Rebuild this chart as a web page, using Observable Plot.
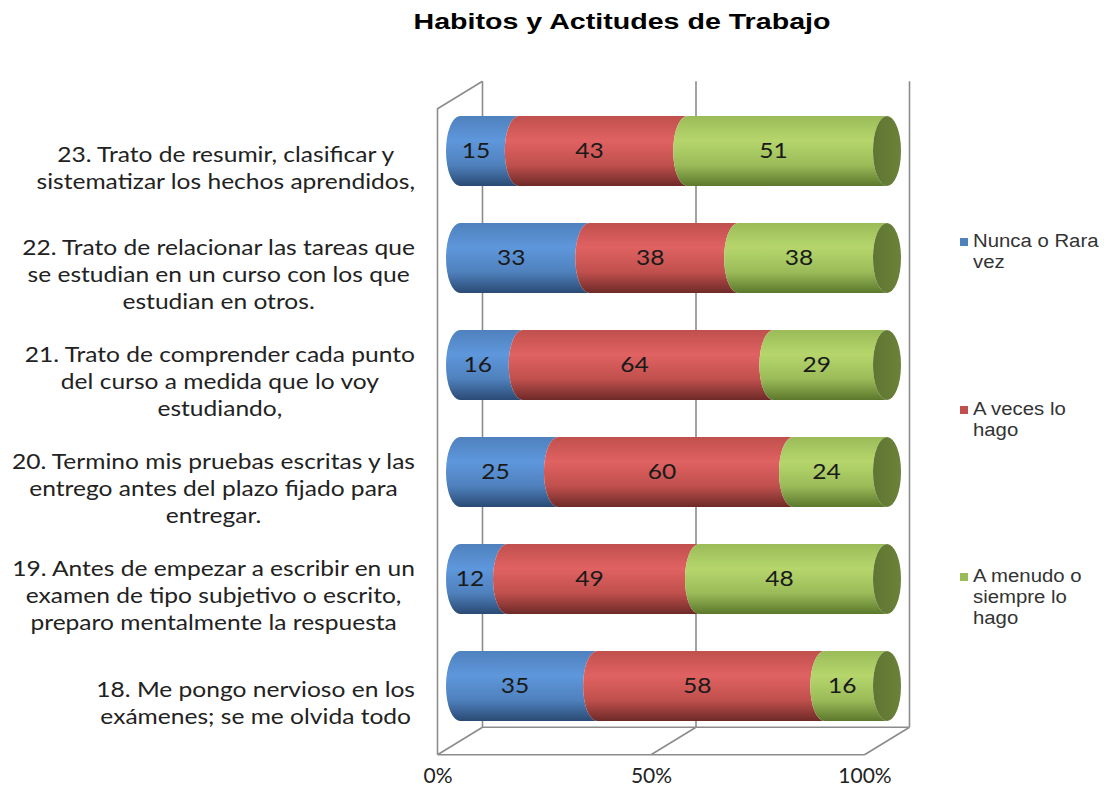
<!DOCTYPE html>
<html><head><meta charset="utf-8">
<script src="https://cdn.jsdelivr.net/npm/d3@7"></script>
<script src="https://cdn.jsdelivr.net/npm/@observablehq/plot@0.6"></script>
<style>
body{margin:0;background:#fff;width:1106px;height:794px;overflow:hidden;position:relative;}
#title{height:44px;position:relative;}
#title span{position:absolute;left:622px;top:22px;transform:translate(-50%,-50%) scaleX(1.3);font:bold 22px "Liberation Sans",Arial,sans-serif;color:#000;white-space:nowrap;}
#legend{position:absolute;left:960px;top:0;font:18px "Liberation Sans",Arial,sans-serif;color:#333;}
.item{position:absolute;left:0;width:150px;}
.sw{position:absolute;left:0;width:8px;height:8px;}
.lt{position:absolute;left:13px;line-height:21px;transform:scaleX(1.13);transform-origin:left top;white-space:nowrap;}
</style></head><body>
<div id="title"><span>Habitos y Actitudes de Trabajo</span></div>
<div id="chart"></div>
<div id="legend"></div>
<script>
// ---- data ----
const questions = [
  "23. Trato de resumir, clasificar y\nsistematizar los hechos aprendidos,",
  "22. Trato de relacionar las tareas que\nse estudian en un curso con los que\nestudian en otros.",
  "21. Trato de comprender cada punto\ndel curso a medida que lo voy\nestudiando,",
  "20. Termino mis pruebas escritas y las\nentrego antes del plazo fijado para\nentregar.",
  "19. Antes de empezar a escribir en un\nexamen de tipo subjetivo o escrito,\npreparo mentalmente la respuesta",
  "18. Me pongo nervioso en los\nexámenes; se me olvida todo"
];
const seriesNames = ["Nunca o Rara vez", "A veces lo hago", "A menudo o siempre lo hago"];
const legendLabels = ["Nunca o Rara\nvez", "A veces lo\nhago", "A menudo o\nsiempre lo\nhago"];
const nunca   = [15, 33, 16, 25, 12, 35];
const aVeces  = [43, 38, 64, 60, 49, 58];
const aMenudo = [51, 38, 29, 24, 48, 16];
const xTicks = [0, 0.5, 1];
const xTickLabels = ["0%", "50%", "100%"];
const colors = ["#4F81BD", "#C0504D", "#9BBB59"];
const lightColors = ["#5E97DC", "#E06262", "#B6D66C"];
const darkColors = ["#2A4A74", "#6E2A28", "#5C782C"];
const capColor = "#6B8239";

// ---- build table ----
const seriesValues = [nunca, aVeces, aMenudo];
const rows = [];
questions.forEach((q, i) => {
  seriesValues.forEach((arr, s) => rows.push({q, s, serie: seriesNames[s], value: arr[i]}));
});

const DX = 22.5, DY = 13.75, RX = 14;
const STRETCH = 1.17;

function frame3d(index, scales, values, dim) {
  const x = scales.x;
  const top = dim.marginTop, bottom = dim.height - dim.marginBottom;
  const g = d3.create("svg:g").attr("fill", "none").attr("stroke", "#8C8C8C").attr("stroke-width", 1.6);
  const p = d3.path();
  xTicks.forEach(t => { p.moveTo(x(t) + DX, top - DY); p.lineTo(x(t) + DX, bottom - DY); });
  p.moveTo(x(0) + DX, bottom - DY); p.lineTo(x(1) + DX, bottom - DY);
  p.moveTo(x(0) - DX, bottom + DY); p.lineTo(x(1) - DX, bottom + DY);
  xTicks.forEach(t => { p.moveTo(x(t) + DX, bottom - DY); p.lineTo(x(t) - DX, bottom + DY); });
  p.moveTo(x(0) - DX, bottom + DY); p.lineTo(x(0) - DX, top + DY); p.lineTo(x(0) + DX, top - DY);
  g.append("path").attr("d", p.toString());
  return g.node();
}

function cylinders(index, scales, values, dim) {
  const bw = scales.y.bandwidth ? scales.y.bandwidth() : 70;
  const ry = bw / 2;
  const g = d3.create("svg:g");
  const defs = g.append("defs");
  colors.forEach((c, s) => {
    const lg = defs.append("linearGradient").attr("id", "cyl" + s)
      .attr("x1", 0).attr("y1", 0).attr("x2", 0).attr("y2", 1);
    lg.append("stop").attr("offset", "0%").attr("stop-color", c);
    lg.append("stop").attr("offset", "35%").attr("stop-color", lightColors[s]);
    lg.append("stop").attr("offset", "70%").attr("stop-color", c);
    lg.append("stop").attr("offset", "100%").attr("stop-color", darkColors[s]);
  });
  const capG = defs.append("linearGradient").attr("id", "capg")
    .attr("x1", 0).attr("y1", 0).attr("x2", 1).attr("y2", 0);
  capG.append("stop").attr("offset", "0%").attr("stop-color", "#5F7532");
  capG.append("stop").attr("offset", "100%").attr("stop-color", capColor);
  const x1 = values.x1, x2 = values.x2, Y = values.y;
  const maxX = {};
  for (const i of index) {
    const q = rows[i].q;
    if (!(q in maxX) || x2[i] > maxX[q].x) maxX[q] = {x: x2[i], i};
  }
  for (const i of index) {
    const s = rows[i].s;
    const t = Y[i], b = Y[i] + bw;
    const d = `M${x1[i]},${t}L${x2[i]},${t}A${RX},${ry} 0 0 0 ${x2[i]},${b}L${x1[i]},${b}A${RX},${ry} 0 0 1 ${x1[i]},${t}Z`;
    g.append("path").attr("d", d).attr("fill", `url(#cyl${s})`);
  }
  for (const q in maxX) {
    const i = maxX[q].i;
    g.append("ellipse").attr("cx", x2[i]).attr("cy", Y[i] + ry).attr("rx", RX).attr("ry", ry)
      .attr("fill", "url(#capg)");
  }
  return g.node();
}

const chart = Plot.plot({
  width: 1106,
  height: 750,
  marginTop: 51,
  marginBottom: 53,
  marginLeft: 460,
  marginRight: 219,
  x: {domain: [0, 1], axis: null},
  y: {domain: questions, axis: null, paddingInner: 0.35, paddingOuter: 0.175},
  style: {fontFamily: "Lato, sans-serif", background: "#fff"},
  marks: [
    frame3d,
    Plot.barX(rows, Plot.stackX({x: "value", y: "q", offset: "normalize", order: null, render: cylinders})),
    Plot.text(rows, Plot.stackX({x: "value", y: "q", offset: "normalize", order: null,
      text: "value", dx: -RX, fontSize: 21, fill: "#1a1a1a", className: "vlabels"})),
    Plot.text(questions, {y: d => d, text: d => d, frameAnchor: "left", dx: -235, dy: 15,
      textAnchor: "middle", lineHeight: 1.29, fontSize: 21, fill: "#222", className: "qlabels"}),
    Plot.text(xTicks, {x: d => d, text: (d, i) => xTickLabels[i], frameAnchor: "bottom",
      dx: -DX, dy: 41, fontSize: 21, fill: "#222"})
  ]
});
document.getElementById("chart").appendChild(chart);

// the reference's text is horizontally stretched; label blocks are right-aligned
const RIGHT_EDGE = 415;
const svgLeft = chart.getBoundingClientRect().left;
function stretch(t, anchor) {
  // anchor: function(rect) -> screen x to hold fixed; target: desired screen x
  const r0 = t.getBoundingClientRect();
  const tr = t.getAttribute("transform") || "";
  t.setAttribute("transform", `scale(${STRETCH},1) ` + tr);
  return r0;
}
chart.querySelectorAll("g.qlabels text").forEach(t => {
  stretch(t);
  const r = t.getBoundingClientRect();
  const shift = (RIGHT_EDGE - (r.right - svgLeft)) / 1; // parent coords are unscaled translations
  t.setAttribute("transform", `translate(${shift},0) ` + t.getAttribute("transform"));
});
chart.querySelectorAll("g.vlabels text").forEach(t => {
  const r0 = stretch(t);
  const r = t.getBoundingClientRect();
  const shift = (r0.left + r0.right) / 2 - (r.left + r.right) / 2;
  t.setAttribute("transform", `translate(${shift},0) ` + t.getAttribute("transform"));
});

// legend
const legend = document.getElementById("legend");
const legendTops = [231, 399, 566];
legendLabels.forEach((lab, s) => {
  const item = document.createElement("div");
  item.className = "item";
  item.style.top = legendTops[s] + "px";
  const sw = document.createElement("div");
  sw.className = "sw"; sw.style.background = colors[s]; sw.style.top = "7px";
  const lt = document.createElement("div");
  lt.className = "lt"; lt.style.top = "0px";
  lt.innerHTML = lab.split("\n").join("<br>");
  item.appendChild(sw); item.appendChild(lt);
  legend.appendChild(item);
});
</script>
</body></html>
